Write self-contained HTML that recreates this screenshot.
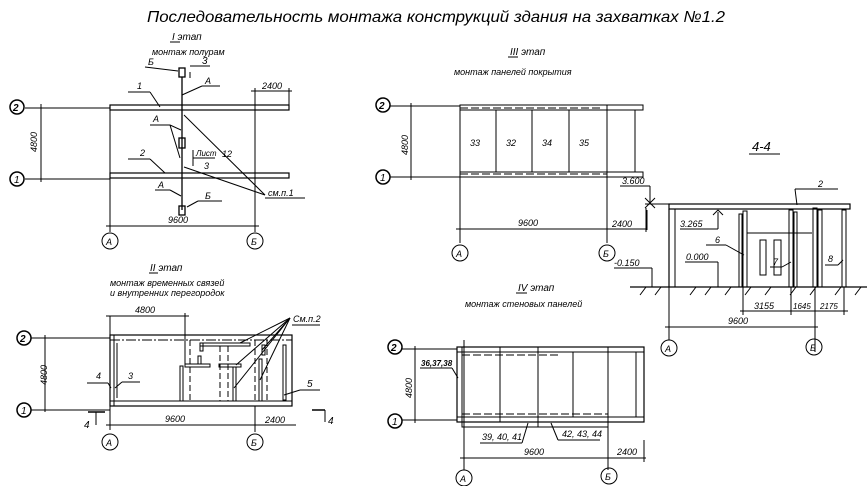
<!DOCTYPE html>
<html><head><meta charset="utf-8"><style>
html,body{margin:0;padding:0;background:#fff;}
svg{display:block;}
text{font-family:"Liberation Sans",sans-serif;font-style:italic;fill:#000;}
.s{font-size:9px;}
.m{font-size:10px;}
</style></head><body>
<svg width="867" height="486" viewBox="0 0 867 486" xmlns="http://www.w3.org/2000/svg" stroke="#000" fill="none" stroke-width="1">
<text x="147" y="22" font-size="16" stroke="none" textLength="578" lengthAdjust="spacingAndGlyphs">Последовательность монтажа  конструкций  здания  на  захватках №1.2</text>

<!-- ===== Stage I ===== -->
<g>
<text x="172" y="40" class="m" stroke="none">I этап</text>
<line x1="170" y1="42" x2="180" y2="42"/>
<text x="152" y="55" class="s" stroke="none">монтаж  полурам</text>
<circle cx="17" cy="107" r="7" stroke-width="1.5"/><text x="13" y="111" font-size="10" font-weight="bold" stroke="none">2</text>
<circle cx="17" cy="179" r="7" stroke-width="1.5"/><text x="14" y="183" font-size="10" stroke="none">1</text>
<line x1="25" y1="108" x2="110" y2="108"/><line x1="25" y1="179" x2="110" y2="179"/>
<line x1="41" y1="104" x2="41" y2="182"/>
<text x="0" y="0" class="s" stroke="none" transform="translate(37,152) rotate(-90)">4800</text>
<rect x="110" y="105" width="179" height="5" stroke-width="1.2"/>
<rect x="110" y="173" width="179" height="5" stroke-width="1.2"/>
<line x1="110" y1="105" x2="110" y2="232"/><line x1="255" y1="88" x2="255" y2="232"/>
<line x1="106" y1="226" x2="259" y2="226"/><line x1="251" y1="91" x2="292" y2="91"/>
<line x1="289" y1="88" x2="289" y2="105"/>
<text x="168" y="223" class="s" stroke="none">9600</text>
<text x="262" y="89" class="s" stroke="none">2400</text>
<circle cx="110" cy="241" r="8"/><text x="106" y="245" class="s" stroke="none">A</text>
<circle cx="255" cy="241" r="8"/><text x="251" y="245" class="s" stroke="none">Б</text>
<line x1="182" y1="77" x2="182" y2="210" stroke-width="1.3"/>
<rect x="179" y="68" width="6" height="9" stroke-width="1.3"/>
<rect x="179" y="138" width="6" height="10" stroke-width="1.3"/>
<rect x="179" y="206" width="6" height="9" stroke-width="1.3"/>
<line x1="190" y1="72" x2="190" y2="78"/><line x1="190" y1="66" x2="210" y2="66"/>
<text x="202" y="64" class="m" stroke="none">3</text>
<line x1="145" y1="67" x2="178" y2="71"/><text x="148" y="65" class="s" stroke="none">Б</text>
<line x1="182" y1="95" x2="202" y2="86"/><line x1="202" y1="86" x2="220" y2="86"/><text x="205" y="84" class="s" stroke="none">A</text>
<line x1="128" y1="92" x2="150" y2="92"/><line x1="150" y1="92" x2="160" y2="107"/><text x="137" y="89" class="s" stroke="none">1</text>
<line x1="150" y1="125" x2="170" y2="125"/><line x1="170" y1="125" x2="181" y2="130"/><line x1="170" y1="125" x2="180" y2="158"/><text x="153" y="122" class="s" stroke="none">A</text>
<line x1="184" y1="115" x2="265" y2="195"/>
<text x="222" y="157" class="s" stroke="none">12</text>
<line x1="193" y1="150" x2="193" y2="166"/><line x1="193" y1="158" x2="215" y2="158"/>
<text x="196" y="156" font-size="8" stroke="none">Лист</text><text x="204" y="169" class="s" stroke="none">3</text>
<line x1="184" y1="167" x2="265" y2="195"/>
<line x1="265" y1="198" x2="305" y2="198"/><text x="268" y="196" class="s" stroke="none">см.п.1</text>
<line x1="128" y1="159" x2="150" y2="159"/><line x1="150" y1="159" x2="165" y2="173"/><text x="140" y="156" class="s" stroke="none">2</text>
<line x1="155" y1="190" x2="170" y2="190"/><line x1="170" y1="190" x2="181" y2="196"/><text x="158" y="188" class="s" stroke="none">A</text>
<line x1="187" y1="207" x2="198" y2="201"/><line x1="198" y1="201" x2="222" y2="201"/><text x="205" y="199" class="s" stroke="none">Б</text>
</g>

<!-- ===== Stage II ===== -->
<g>
<text x="150" y="271" class="m" stroke="none">II этап</text>
<line x1="149" y1="273" x2="158" y2="273"/>
<text x="110" y="286" class="s" stroke="none">монтаж временных связей</text>
<text x="110" y="296" class="s" stroke="none">и внутренних перегородок</text>
<circle cx="24" cy="338" r="7" stroke-width="1.5"/><text x="20" y="342" font-size="10" font-weight="bold" stroke="none">2</text>
<circle cx="24" cy="410" r="7" stroke-width="1.5"/><text x="21" y="414" font-size="10" stroke="none">1</text>
<line x1="31" y1="338" x2="110" y2="338"/><line x1="31" y1="410" x2="110" y2="410"/>
<line x1="45" y1="335" x2="45" y2="412"/>
<text x="0" y="0" class="s" stroke="none" transform="translate(47,385) rotate(-90)">4800</text>
<rect x="110" y="335" width="182" height="71" stroke-width="1.2"/>
<line x1="110" y1="340" x2="292" y2="340" stroke-dasharray="10,2,2,2"/>
<line x1="110" y1="401" x2="292" y2="401"/>
<rect x="110" y="335" width="4" height="71"/>
<line x1="117" y1="343" x2="117" y2="398"/>
<line x1="110" y1="316" x2="110" y2="430"/><line x1="185" y1="313" x2="185" y2="365"/>
<line x1="106" y1="316" x2="189" y2="316"/><text x="135" y="313" class="s" stroke="none">4800</text>
<line x1="255" y1="406" x2="255" y2="432"/>
<line x1="106" y1="425" x2="296" y2="425"/><text x="165" y="422" class="s" stroke="none">9600</text>
<text x="265" y="423" class="s" stroke="none">2400</text>
<circle cx="110" cy="442" r="8"/><text x="106" y="446" class="s" stroke="none">A</text>
<circle cx="255" cy="442" r="8"/><text x="251" y="446" class="s" stroke="none">Б</text>
<rect x="180" y="366" width="3" height="35"/>
<line x1="190" y1="340" x2="190" y2="401" stroke-dasharray="6,3"/>
<line x1="220" y1="346" x2="220" y2="401" stroke-dasharray="6,3"/>
<line x1="228" y1="346" x2="228" y2="401" stroke-dasharray="6,3"/>
<rect x="200" y="343" width="50" height="3"/><rect x="200" y="343" width="3" height="8"/>
<rect x="185" y="364" width="25" height="3"/><rect x="198" y="356" width="3" height="8"/>
<rect x="219" y="364" width="22" height="3"/><rect x="233" y="367" width="3" height="34"/>
<line x1="255" y1="340" x2="255" y2="401" stroke-dasharray="6,3"/>
<rect x="259" y="359" width="3" height="42"/><rect x="262" y="345" width="3" height="10"/>
<line x1="267" y1="340" x2="267" y2="401" stroke-dasharray="6,3"/>
<rect x="283" y="345" width="3" height="55"/>
<line x1="292" y1="325" x2="320" y2="325"/><text x="293" y="322" class="s" stroke="none">См.п.2</text>
<line x1="290" y1="318" x2="240" y2="343"/><line x1="290" y1="318" x2="236" y2="365"/><line x1="290" y1="318" x2="234" y2="388"/><line x1="290" y1="318" x2="262" y2="350"/><line x1="290" y1="318" x2="260" y2="380"/>
<line x1="87" y1="383" x2="108" y2="383"/><line x1="108" y1="383" x2="111" y2="388"/><text x="96" y="379" class="s" stroke="none">4</text>
<line x1="115" y1="388" x2="122" y2="382"/><line x1="122" y1="382" x2="140" y2="382"/><text x="128" y="379" class="s" stroke="none">3</text>
<line x1="284" y1="395" x2="300" y2="390"/><line x1="300" y1="390" x2="320" y2="390"/><text x="307" y="387" class="m" stroke="none">5</text>
<line x1="88" y1="412" x2="105" y2="412" stroke-width="1.5"/><line x1="96" y1="412" x2="96" y2="425"/><text x="84" y="428" class="m" stroke="none">4</text>
<line x1="312" y1="410" x2="325" y2="410" stroke-width="1.5"/><line x1="325" y1="410" x2="325" y2="422"/><text x="328" y="424" class="m" stroke="none">4</text>
</g>

<!-- ===== Stage III ===== -->
<g>
<text x="510" y="55" class="m" stroke="none">III этап</text>
<line x1="508" y1="57" x2="518" y2="57"/>
<text x="454" y="75" class="s" stroke="none">монтаж  панелей  покрытия</text>
<circle cx="383" cy="105" r="7" stroke-width="1.5"/><text x="379" y="109" font-size="10" font-weight="bold" stroke="none">2</text>
<circle cx="383" cy="177" r="7" stroke-width="1.5"/><text x="380" y="181" font-size="10" stroke="none">1</text>
<line x1="390" y1="106" x2="460" y2="106"/><line x1="390" y1="177" x2="460" y2="177"/>
<line x1="411" y1="103" x2="411" y2="180"/>
<text x="0" y="0" class="s" stroke="none" transform="translate(408,155) rotate(-90)">4800</text>
<rect x="460" y="105" width="183" height="5"/>
<rect x="460" y="172" width="183" height="5"/>
<line x1="460" y1="108" x2="600" y2="108" stroke-dasharray="8,3"/>
<line x1="460" y1="174" x2="607" y2="174" stroke-dasharray="8,3"/>
<line x1="460" y1="105" x2="460" y2="243"/>
<line x1="496" y1="110" x2="496" y2="172"/><line x1="532" y1="110" x2="532" y2="172"/><line x1="569" y1="110" x2="569" y2="172"/>
<line x1="607" y1="105" x2="607" y2="243"/><line x1="635" y1="110" x2="635" y2="172"/>
<text x="470" y="146" class="s" stroke="none">33</text><text x="506" y="146" class="s" stroke="none">32</text>
<text x="542" y="146" class="s" stroke="none">34</text><text x="579" y="146" class="s" stroke="none">35</text>
<line x1="456" y1="229" x2="647" y2="229"/><text x="518" y="226" class="s" stroke="none">9600</text>
<text x="612" y="227" class="s" stroke="none">2400</text>
<line x1="646" y1="208" x2="646" y2="232"/>
<circle cx="460" cy="253" r="8"/><text x="456" y="257" class="s" stroke="none">A</text>
<circle cx="607" cy="253" r="8"/><text x="603" y="257" class="s" stroke="none">Б</text>
</g>

<!-- ===== Section 4-4 ===== -->
<g>
<text x="752" y="151" font-size="13" stroke="none">4-4</text>
<line x1="749" y1="154" x2="780" y2="154"/>
<rect x="669" y="204" width="181" height="5" stroke-width="1.2"/>
<line x1="669" y1="209" x2="669" y2="287" stroke-width="1.2"/>
<line x1="675" y1="209" x2="675" y2="287"/>
<rect x="743" y="211" width="4" height="76"/><rect x="739" y="214" width="3" height="73"/>
<rect x="789" y="210" width="4" height="77"/><rect x="794" y="212" width="3" height="75"/>
<rect x="813" y="208" width="4" height="79"/><rect x="818" y="210" width="4" height="77"/>
<rect x="842" y="210" width="4" height="77"/>
<line x1="747" y1="233" x2="812" y2="233"/>
<rect x="760" y="240" width="6" height="35"/><rect x="774" y="240" width="7" height="35"/>
<line x1="630" y1="287" x2="867" y2="287" stroke-width="1.2"/>
<path d="M640 295 l6 -8 M655 295 l6 -8 M690 295 l6 -8 M705 295 l6 -8 M725 295 l6 -8 M745 295 l6 -8 M765 295 l6 -8 M790 295 l6 -8 M810 295 l6 -8 M835 295 l6 -8 M855 295 l6 -8"/>
<line x1="620" y1="186" x2="650" y2="186"/><line x1="650" y1="186" x2="650" y2="204"/><line x1="645" y1="198" x2="655" y2="208"/><line x1="655" y1="198" x2="645" y2="208"/>
<line x1="645" y1="204" x2="669" y2="204"/>
<text x="622" y="184" class="s" stroke="none">3.600</text>
<line x1="647" y1="210" x2="647" y2="230"/>
<line x1="680" y1="229" x2="718" y2="229"/><line x1="718" y1="212" x2="718" y2="229"/><line x1="713" y1="215" x2="718" y2="210"/><line x1="723" y1="215" x2="718" y2="210"/>
<text x="680" y="227" class="s" stroke="none">3.265</text>
<line x1="685" y1="262" x2="718" y2="262"/><line x1="718" y1="262" x2="718" y2="287"/>
<text x="686" y="260" class="s" stroke="none">0.000</text>
<line x1="614" y1="268" x2="652" y2="268"/><line x1="652" y1="268" x2="652" y2="287"/>
<text x="614" y="266" class="s" stroke="none">-0.150</text>
<line x1="706" y1="245" x2="726" y2="245"/><line x1="726" y1="245" x2="744" y2="255"/><text x="715" y="243" class="s" stroke="none">6</text>
<line x1="770" y1="267" x2="782" y2="267"/><line x1="782" y1="267" x2="791" y2="262"/><text x="773" y="265" class="s" stroke="none">7</text>
<line x1="825" y1="265" x2="838" y2="265"/><line x1="838" y1="265" x2="843" y2="260"/><text x="828" y="262" class="s" stroke="none">8</text>
<line x1="795" y1="189" x2="838" y2="189"/><line x1="795" y1="189" x2="797" y2="205"/><text x="818" y="187" class="s" stroke="none">2</text>
<line x1="743" y1="287" x2="743" y2="315"/><line x1="791" y1="287" x2="791" y2="315"/><line x1="815" y1="287" x2="815" y2="352"/><line x1="844" y1="287" x2="844" y2="315"/>
<line x1="740" y1="311" x2="848" y2="311"/>
<text x="754" y="309" class="s" stroke="none">3155</text><text x="793" y="309" font-size="8" stroke="none">1645</text><text x="820" y="309" font-size="8" stroke="none">2175</text>
<line x1="669" y1="287" x2="669" y2="340"/>
<line x1="665" y1="327" x2="818" y2="327"/><text x="728" y="324" class="s" stroke="none">9600</text>
<circle cx="669" cy="348" r="8"/><text x="665" y="352" class="s" stroke="none">A</text>
<circle cx="814" cy="347" r="8"/><text x="810" y="351" class="s" stroke="none">Б</text>
</g>

<!-- ===== Stage IV ===== -->
<g>
<text x="518" y="291" class="m" stroke="none">IV этап</text>
<line x1="516" y1="293" x2="527" y2="293"/>
<text x="465" y="307" class="s" stroke="none">монтаж  стеновых  панелей</text>
<circle cx="395" cy="347" r="7" stroke-width="1.5"/><text x="391" y="351" font-size="10" font-weight="bold" stroke="none">2</text>
<circle cx="395" cy="421" r="7" stroke-width="1.5"/><text x="392" y="425" font-size="10" stroke="none">1</text>
<line x1="402" y1="349" x2="457" y2="349"/><line x1="402" y1="420" x2="457" y2="420"/>
<line x1="415" y1="346" x2="415" y2="423"/>
<text x="0" y="0" class="s" stroke="none" transform="translate(412,398) rotate(-90)">4800</text>
<rect x="457" y="347" width="187" height="75" stroke-width="1.2"/>
<line x1="457" y1="352" x2="644" y2="352"/><line x1="462" y1="355" x2="560" y2="355" stroke-dasharray="8,3"/>
<line x1="457" y1="417" x2="644" y2="417"/><line x1="462" y1="414" x2="608" y2="414" stroke-dasharray="8,3"/>
<line x1="462" y1="347" x2="462" y2="422"/>
<line x1="500" y1="347" x2="500" y2="422"/><line x1="538" y1="347" x2="538" y2="427"/><line x1="573" y1="352" x2="573" y2="417"/>
<line x1="608" y1="347" x2="608" y2="470"/><line x1="636" y1="352" x2="636" y2="417"/>
<rect x="462" y="422" width="146" height="5"/>
<line x1="464" y1="340" x2="464" y2="470"/>
<line x1="420" y1="368" x2="452" y2="368"/><line x1="452" y1="368" x2="458" y2="378"/>
<text x="421" y="366" font-size="8" font-weight="bold" stroke="none">36,37,38</text>
<line x1="480" y1="443" x2="522" y2="443"/><line x1="522" y1="443" x2="528" y2="423"/>
<text x="482" y="440" class="s" stroke="none">39, 40, 41</text>
<line x1="551" y1="423" x2="558" y2="440"/><line x1="558" y1="440" x2="600" y2="440"/>
<text x="562" y="437" class="s" stroke="none">42, 43, 44</text>
<line x1="460" y1="458" x2="646" y2="458"/><line x1="644" y1="440" x2="644" y2="462"/>
<text x="524" y="455" class="s" stroke="none">9600</text><text x="617" y="455" class="s" stroke="none">2400</text>
<circle cx="464" cy="478" r="8"/><text x="460" y="482" class="s" stroke="none">A</text>
<circle cx="609" cy="476" r="8"/><text x="605" y="480" class="s" stroke="none">Б</text>
</g>
</svg>
</body></html>
